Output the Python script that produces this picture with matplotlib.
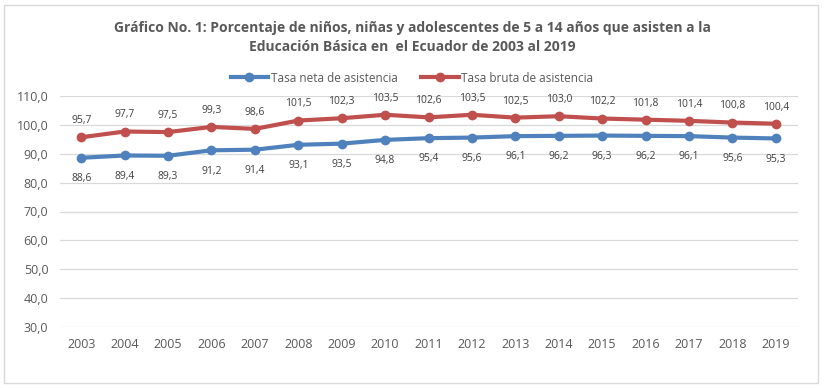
import matplotlib
matplotlib.use("Agg")
import matplotlib.pyplot as plt
from matplotlib.patches import Rectangle

years = [str(y) for y in range(2003, 2020)]
tasa_neta = [88.6, 89.4, 89.3, 91.2, 91.4, 93.1, 93.5, 94.8, 95.4, 95.6,
             96.1, 96.2, 96.3, 96.2, 96.1, 95.6, 95.3]
tasa_bruta = [95.7, 97.7, 97.5, 99.3, 98.6, 101.5, 102.3, 103.5, 102.6, 103.5,
              102.5, 103.0, 102.2, 101.8, 101.4, 100.8, 100.4]

C_BLUE = "#4F81BD"
C_RED = "#C0504D"
C_TEXT = "#595959"
FONT = ["Open Sans", "DejaVu Sans"]

plt.rcParams["font.family"] = FONT

fig = plt.figure(figsize=(8.24, 3.88), dpi=100)
fig.patch.set_facecolor("white")

# marco del gráfico
fig.patches.append(Rectangle((4 / 824, 5 / 388), 814 / 824, 378 / 388,
                             transform=fig.transFigure, fill=False,
                             edgecolor="#D9D9D9", linewidth=1.0))

ax = fig.add_axes([59.5 / 824, 1 - 327 / 388, 738 / 824, 231 / 388])
x = list(range(len(years)))

ax.plot(x, tasa_neta, color=C_BLUE, linewidth=3, marker="o", markersize=6,
        label="Tasa neta de asistencia", zorder=3)
ax.plot(x, tasa_bruta, color=C_RED, linewidth=3, marker="o", markersize=6,
        label="Tasa bruta de asistencia", zorder=3)

for xi, v in zip(x, tasa_neta):
    ax.annotate(f"{v:.1f}".replace(".", ","), (xi, v), xytext=(0, -11),
                textcoords="offset points", ha="center", va="top",
                fontsize=7.5, color="#404040")
for xi, v in zip(x, tasa_bruta):
    ax.annotate(f"{v:.1f}".replace(".", ","), (xi, v), xytext=(0, 8),
                textcoords="offset points", ha="center", va="bottom",
                fontsize=7.5, color="#404040")

ax.set_xlim(-0.5, len(years) - 0.5)
ax.set_ylim(30, 110)
ax.set_yticks(range(30, 111, 10))
ax.set_yticklabels([f"{v},0" for v in range(30, 111, 10)])
ax.set_xticks(x)
ax.set_xticklabels(years)
ax.grid(axis="y", color="#D9D9D9", linewidth=0.9)
ax.set_axisbelow(True)
for s in ax.spines.values():
    s.set_visible(False)
ax.tick_params(axis="both", length=0, labelsize=9, colors=C_TEXT)
ax.tick_params(axis="x", pad=8)
ax.tick_params(axis="y", pad=8)

fig.legend(loc="center", bbox_to_anchor=(0.5, 1 - 78 / 388), ncol=2,
           frameon=False, fontsize=8.5, handlelength=3.2, columnspacing=2.0,
           handletextpad=0.2, labelcolor=C_TEXT)

fig.text(0.5, 1 - 28 / 388,
         "Gráfico No. 1: Porcentaje de niños, niñas y adolescentes de 5 a 14 años que asisten a la",
         ha="center", va="center", fontsize=10, fontweight="bold", color=C_TEXT)
fig.text(0.5, 1 - 47 / 388,
         "Educación Básica en  el Ecuador de 2003 al 2019",
         ha="center", va="center", fontsize=10, fontweight="bold", color=C_TEXT)

fig.savefig("out.png", dpi=100)
